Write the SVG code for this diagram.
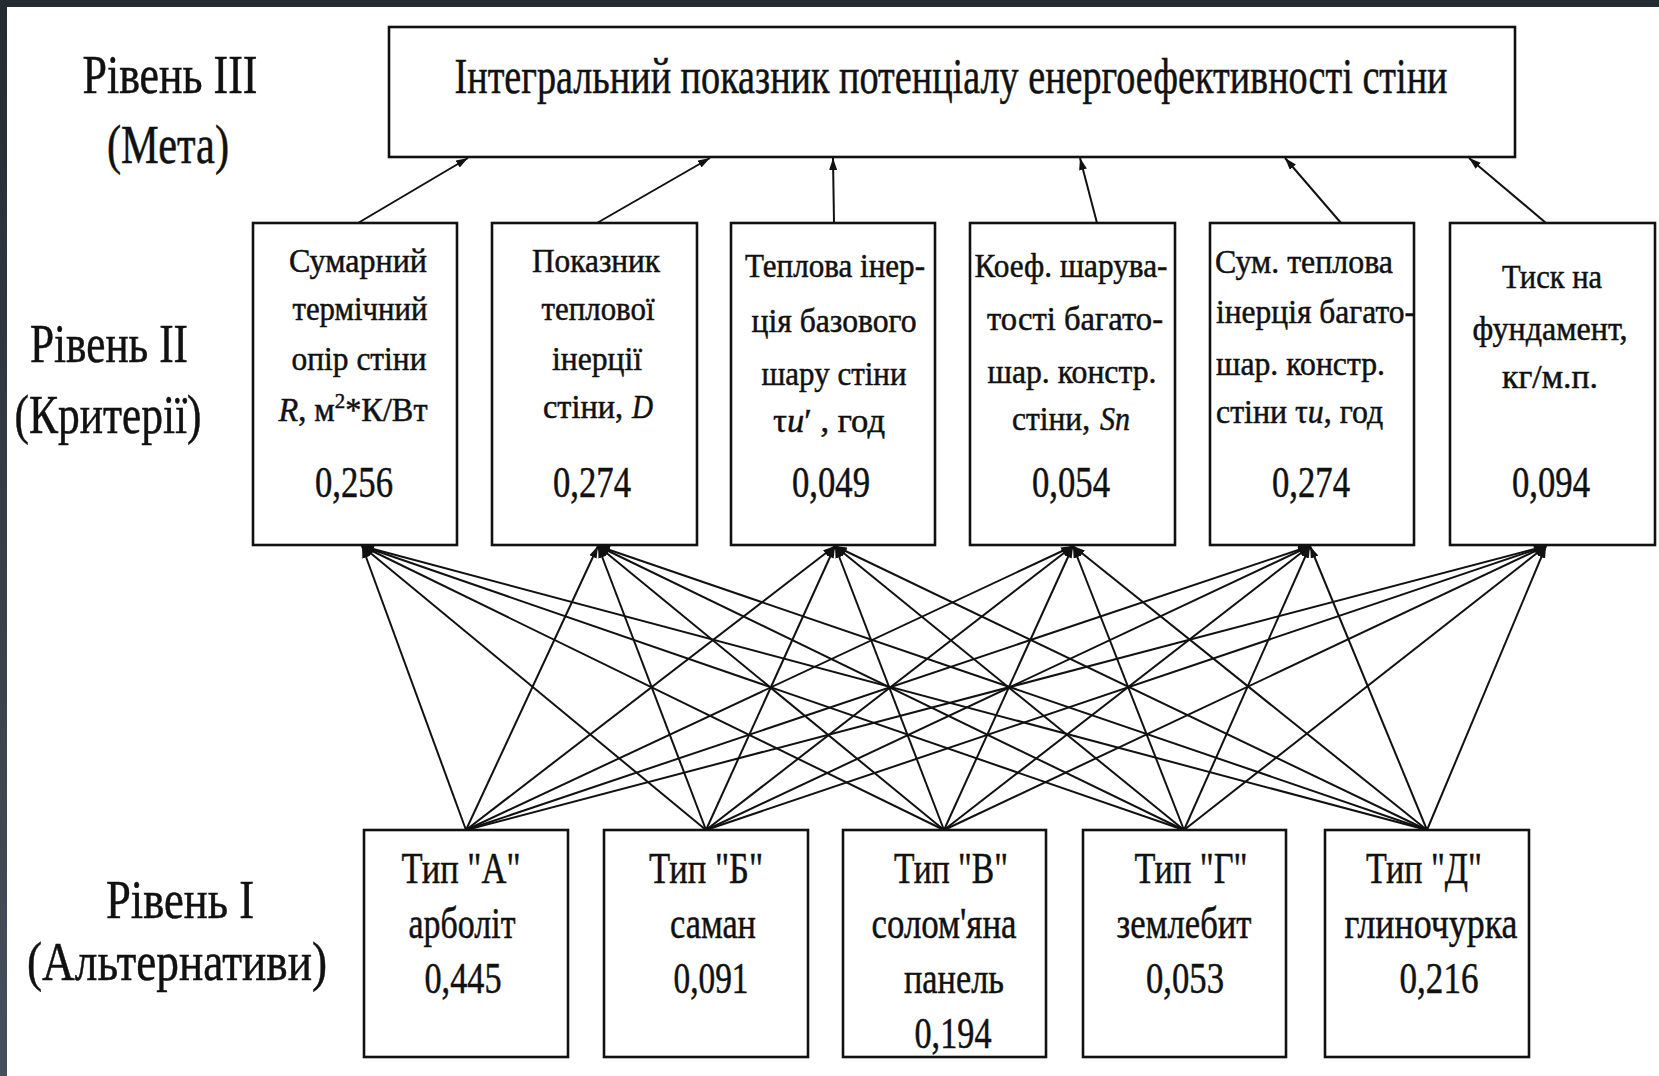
<svg xmlns="http://www.w3.org/2000/svg" width="1659" height="1076" viewBox="0 0 1659 1076">
<defs>
<linearGradient id="edge" x1="0" y1="0" x2="0" y2="1">
<stop offset="0" stop-color="#252b33"/>
<stop offset="1" stop-color="#46505c"/>
</linearGradient>
<marker id="arr" viewBox="0 0 12 8" refX="12" refY="4" markerWidth="12" markerHeight="8" markerUnits="userSpaceOnUse" orient="auto">
<path d="M0,0 L12,4 L0,8 z" fill="#111"/>
</marker>
<style>
.box{fill:#fff;stroke:#111;stroke-width:2.6}
.t{font-family:"Liberation Serif","Times New Roman",serif;fill:#111;stroke:#111;stroke-width:0.5}
.lvl{font-size:54px}
.ttl{font-size:50px}
.cr{font-size:34px}
.val{font-size:44px}
.alt{font-size:45px}
.c{stroke:#111;stroke-width:2;fill:none;marker-end:url(#arr)}
.i{font-style:italic}
</style>
</defs>
<rect x="0" y="0" width="1659" height="1076" fill="#fff"/>
<rect x="0" y="0" width="1659" height="7" fill="#252b33"/>
<rect x="0" y="0" width="7" height="1076" fill="url(#edge)"/>

<g id="levels" class="t lvl" text-anchor="middle">
<text x="170" y="93" textLength="175" lengthAdjust="spacingAndGlyphs">Рівень III</text>
<text x="168" y="163" textLength="122" lengthAdjust="spacingAndGlyphs">(Мета)</text>
<text x="109" y="362" textLength="158" lengthAdjust="spacingAndGlyphs">Рівень II</text>
<text x="108" y="433" textLength="187" lengthAdjust="spacingAndGlyphs">(Критерії)</text>
<text x="180" y="918" textLength="148" lengthAdjust="spacingAndGlyphs">Рівень I</text>
<text x="177" y="980" textLength="300" lengthAdjust="spacingAndGlyphs">(Альтернативи)</text>
</g>

<g id="connectors">
<line class="c" x1="358" y1="223" x2="468" y2="158"/>
<line class="c" x1="597" y1="223" x2="710" y2="158"/>
<line class="c" x1="834" y1="223" x2="833" y2="158"/>
<line class="c" x1="1097" y1="223" x2="1080" y2="158"/>
<line class="c" x1="1341" y1="223" x2="1285" y2="158"/>
<line class="c" x1="1546" y1="223" x2="1469" y2="158"/>
<line class="c" x1="466" y1="830" x2="362" y2="546"/>
<line class="c" x1="466" y1="830" x2="598" y2="546"/>
<line class="c" x1="466" y1="830" x2="835" y2="546"/>
<line class="c" x1="466" y1="830" x2="1073" y2="546"/>
<line class="c" x1="466" y1="830" x2="1310" y2="546"/>
<line class="c" x1="466" y1="830" x2="1546" y2="546"/>
<line class="c" x1="706" y1="830" x2="362" y2="546"/>
<line class="c" x1="706" y1="830" x2="598" y2="546"/>
<line class="c" x1="706" y1="830" x2="835" y2="546"/>
<line class="c" x1="706" y1="830" x2="1073" y2="546"/>
<line class="c" x1="706" y1="830" x2="1310" y2="546"/>
<line class="c" x1="706" y1="830" x2="1546" y2="546"/>
<line class="c" x1="944" y1="830" x2="362" y2="546"/>
<line class="c" x1="944" y1="830" x2="598" y2="546"/>
<line class="c" x1="944" y1="830" x2="835" y2="546"/>
<line class="c" x1="944" y1="830" x2="1073" y2="546"/>
<line class="c" x1="944" y1="830" x2="1310" y2="546"/>
<line class="c" x1="944" y1="830" x2="1546" y2="546"/>
<line class="c" x1="1184" y1="830" x2="362" y2="546"/>
<line class="c" x1="1184" y1="830" x2="598" y2="546"/>
<line class="c" x1="1184" y1="830" x2="835" y2="546"/>
<line class="c" x1="1184" y1="830" x2="1073" y2="546"/>
<line class="c" x1="1184" y1="830" x2="1310" y2="546"/>
<line class="c" x1="1184" y1="830" x2="1546" y2="546"/>
<line class="c" x1="1427" y1="830" x2="362" y2="546"/>
<line class="c" x1="1427" y1="830" x2="598" y2="546"/>
<line class="c" x1="1427" y1="830" x2="835" y2="546"/>
<line class="c" x1="1427" y1="830" x2="1073" y2="546"/>
<line class="c" x1="1427" y1="830" x2="1310" y2="546"/>
<line class="c" x1="1427" y1="830" x2="1546" y2="546"/>
</g>

<g id="goal">
<rect class="box" x="389" y="27" width="1126" height="130"/>
<text class="t ttl" transform="translate(951,93) scale(0.75,1)" x="0" y="0" text-anchor="middle" textLength="1324" lengthAdjust="spacingAndGlyphs">Інтегральний показник потенціалу енергоефективності стіни</text>
</g>

<g id="crit1" class="t" text-anchor="middle">
<rect class="box" x="253" y="223" width="204" height="322"/>
<text class="cr" x="358" y="272" textLength="138" lengthAdjust="spacingAndGlyphs">Сумарний</text>
<text class="cr" x="360" y="320" textLength="135" lengthAdjust="spacingAndGlyphs">термічний</text>
<text class="cr" x="359" y="370" textLength="135" lengthAdjust="spacingAndGlyphs">опір стіни</text>
<text class="cr" x="353" y="421" textLength="149" lengthAdjust="spacingAndGlyphs"><tspan class="i">R</tspan>, м<tspan font-size="22" dy="-13">2</tspan><tspan dy="13">*К/Вт</tspan></text>
<text class="val" x="354" y="497" textLength="78" lengthAdjust="spacingAndGlyphs">0,256</text>
</g>

<g id="crit2" class="t" text-anchor="middle">
<rect class="box" x="492" y="223" width="205" height="322"/>
<text class="cr" x="596" y="272" textLength="128" lengthAdjust="spacingAndGlyphs">Показник</text>
<text class="cr" x="598" y="320" textLength="113" lengthAdjust="spacingAndGlyphs">теплової</text>
<text class="cr" x="597" y="370" textLength="90" lengthAdjust="spacingAndGlyphs">інерції</text>
<text class="cr" x="543" y="418" text-anchor="start" textLength="80" lengthAdjust="spacingAndGlyphs">стіни,</text>
<text class="cr i" x="632" y="418" text-anchor="start" textLength="21" lengthAdjust="spacingAndGlyphs">D</text>
<text class="val" x="592" y="497" textLength="78" lengthAdjust="spacingAndGlyphs">0,274</text>
</g>

<g id="crit3" class="t" text-anchor="middle">
<rect class="box" x="731" y="223" width="204" height="322"/>
<text class="cr" x="835" y="277" textLength="180" lengthAdjust="spacingAndGlyphs">Теплова інер-</text>
<text class="cr" x="834" y="332" textLength="165" lengthAdjust="spacingAndGlyphs">ція базового</text>
<text class="cr" x="834" y="385" textLength="145" lengthAdjust="spacingAndGlyphs">шару стіни</text>
<text class="cr" x="829" y="432" textLength="112" lengthAdjust="spacingAndGlyphs">τ<tspan class="i">u</tspan>′ , год</text>
<text class="val" x="831" y="497" textLength="78" lengthAdjust="spacingAndGlyphs">0,049</text>
</g>

<g id="crit4" class="t" text-anchor="middle">
<rect class="box" x="970" y="223" width="205" height="322"/>
<text class="cr" x="1071" y="277" textLength="193" lengthAdjust="spacingAndGlyphs">Коеф. шарува-</text>
<text class="cr" x="1075" y="330" textLength="176" lengthAdjust="spacingAndGlyphs">тості багато-</text>
<text class="cr" x="1072" y="383" textLength="169" lengthAdjust="spacingAndGlyphs">шар. констр.</text>
<text class="cr" x="1012" y="430" text-anchor="start" textLength="78" lengthAdjust="spacingAndGlyphs">стіни,</text>
<text class="cr i" x="1100" y="430" text-anchor="start" textLength="30" lengthAdjust="spacingAndGlyphs">Sn</text>
<text class="val" x="1071" y="497" textLength="78" lengthAdjust="spacingAndGlyphs">0,054</text>
</g>

<g id="crit5" class="t">
<rect class="box" x="1210" y="223" width="204" height="322"/>
<text class="cr" x="1215" y="273" textLength="178" lengthAdjust="spacingAndGlyphs">Сум. теплова</text>
<text class="cr" x="1216" y="323" textLength="199" lengthAdjust="spacingAndGlyphs">інерція багато-</text>
<text class="cr" x="1216" y="375" textLength="169" lengthAdjust="spacingAndGlyphs">шар. констр.</text>
<text class="cr" transform="translate(1216,423) scale(0.88,1)" x="0" y="0" textLength="190" lengthAdjust="spacingAndGlyphs">стіни τ<tspan class="i">u</tspan>, год</text>
<text class="val" x="1311" y="497" text-anchor="middle" textLength="78" lengthAdjust="spacingAndGlyphs">0,274</text>
</g>

<g id="crit6" class="t" text-anchor="middle">
<rect class="box" x="1450" y="223" width="205" height="322"/>
<text class="cr" x="1552" y="288" textLength="100" lengthAdjust="spacingAndGlyphs">Тиск на</text>
<text class="cr" x="1550" y="340" textLength="155" lengthAdjust="spacingAndGlyphs">фундамент,</text>
<text class="cr" x="1550" y="388" textLength="96" lengthAdjust="spacingAndGlyphs">кг/м.п.</text>
<text class="val" x="1551" y="497" textLength="78" lengthAdjust="spacingAndGlyphs">0,094</text>
</g>

<g id="altA" class="t alt" text-anchor="middle">
<rect class="box" x="364" y="830" width="204" height="227"/>
<text x="461" y="883" textLength="119" lengthAdjust="spacingAndGlyphs">Тип "А"</text>
<text x="462" y="938" textLength="107" lengthAdjust="spacingAndGlyphs">арболіт</text>
<text x="463" y="993" textLength="77" lengthAdjust="spacingAndGlyphs">0,445</text>
</g>

<g id="altB" class="t alt" text-anchor="middle">
<rect class="box" x="604" y="830" width="204" height="227"/>
<text x="706" y="883" textLength="114" lengthAdjust="spacingAndGlyphs">Тип "Б"</text>
<text x="713" y="938" textLength="86" lengthAdjust="spacingAndGlyphs">саман</text>
<text x="711" y="993" textLength="75" lengthAdjust="spacingAndGlyphs">0,091</text>
</g>

<g id="altV" class="t alt" text-anchor="middle">
<rect class="box" x="843" y="830" width="203" height="227"/>
<text x="951" y="883" textLength="114" lengthAdjust="spacingAndGlyphs">Тип "В"</text>
<text x="944" y="938" textLength="145" lengthAdjust="spacingAndGlyphs">солом'яна</text>
<text x="954" y="993" textLength="100" lengthAdjust="spacingAndGlyphs">панель</text>
<text x="953" y="1048" textLength="77" lengthAdjust="spacingAndGlyphs">0,194</text>
</g>

<g id="altG" class="t alt" text-anchor="middle">
<rect class="box" x="1083" y="830" width="203" height="227"/>
<text x="1191" y="883" textLength="113" lengthAdjust="spacingAndGlyphs">Тип "Г"</text>
<text x="1184" y="938" textLength="135" lengthAdjust="spacingAndGlyphs">землебит</text>
<text x="1185" y="993" textLength="78" lengthAdjust="spacingAndGlyphs">0,053</text>
</g>

<g id="altD" class="t alt" text-anchor="middle">
<rect class="box" x="1325" y="830" width="204" height="227"/>
<text x="1424" y="883" textLength="116" lengthAdjust="spacingAndGlyphs">Тип "Д"</text>
<text x="1431" y="938" textLength="173" lengthAdjust="spacingAndGlyphs">глиночурка</text>
<text x="1439" y="993" textLength="79" lengthAdjust="spacingAndGlyphs">0,216</text>
</g>
</svg>
